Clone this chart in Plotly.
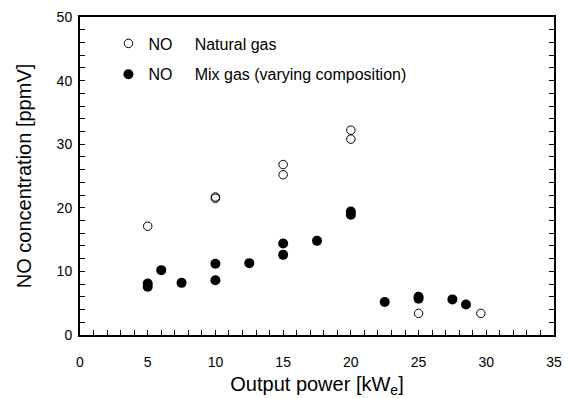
import plotly.graph_objects as go

# Natural gas (open circles)
ng_power = [5, 10, 10, 15, 15, 20, 20, 25, 29.6]
ng_no = [17.1, 21.5, 21.7, 26.8, 25.2, 32.2, 30.8, 3.4, 3.4]

# Mix gas (filled circles)
mix_power = [5, 5, 6, 7.5, 10, 10, 12.5, 15, 15, 17.5, 20, 20, 22.5, 25, 25, 27.5, 28.5]
mix_no = [8.1, 7.6, 10.2, 8.2, 11.2, 8.6, 11.3, 14.4, 12.6, 14.8, 19.4, 18.9, 5.2, 6.0, 5.7, 5.6, 4.8]

FONT = "Liberation Sans, Arial, sans-serif"
NB = "\u00a0"

fig = go.Figure()
fig.add_trace(go.Scatter(
    x=ng_power, y=ng_no, mode="markers",
    name="NO" + NB * 5 + "Natural gas", legendgroup="ng",
    marker=dict(symbol="circle-open", size=8.5, color="black", line=dict(width=1, color="black")),
))
fig.add_trace(go.Scatter(
    x=mix_power, y=mix_no, mode="markers",
    name="NO" + NB * 5 + "Mix gas (varying composition)", legendgroup="mix",
    marker=dict(symbol="circle", size=10, color="black"),
))

axis_common = dict(
    showgrid=False, zeroline=False, showline=True, linecolor="black", linewidth=2,
    ticks="inside", ticklen=5, tickwidth=1, tickcolor="black",
    tickfont=dict(family=FONT, size=14, color="black"),
)

fig.update_layout(
    width=568, height=398,
    margin=dict(l=80, r=14, t=17, b=63),
    plot_bgcolor="white", paper_bgcolor="white",
    font=dict(family=FONT, size=16, color="black"),
    showlegend=True,
    legend=dict(x=0.06, y=0.97, xanchor="left", yanchor="top",
                bgcolor="rgba(0,0,0,0)", font=dict(family=FONT, size=16, color="black"),
                itemwidth=30, tracegroupgap=7),
    xaxis=dict(range=[0, 35], dtick=5, mirror=True, ticklabelstandoff=13,
               minor=dict(dtick=1, ticks="inside", ticklen=5, tickcolor="black"),
               title=dict(text="Output power [kW<sub>e</sub>]", font=dict(family=FONT, size=20), standoff=10),
               automargin=False,
               **axis_common),
    yaxis=dict(range=[0, 50], dtick=10, mirror="allticks", ticklabelstandoff=3,
               minor=dict(dtick=2, ticks="inside", ticklen=5, tickcolor="black"),
               title=dict(text="NO concentration [ppmV]", font=dict(family=FONT, size=20), standoff=20),
               automargin=False,
               **axis_common),
)

fig.write_html("out.html")
